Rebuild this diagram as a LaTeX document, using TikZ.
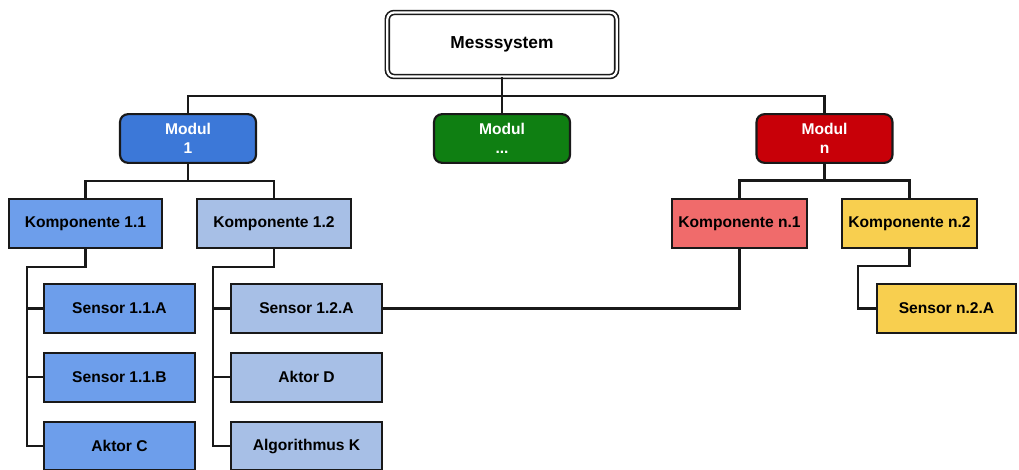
\documentclass[tikz,border=0pt]{standalone}
\usepackage{fontspec}
\setmainfont{Liberation Sans}
\usetikzlibrary{positioning}
\definecolor{modblue}{HTML}{3C78D8}
\definecolor{modgreen}{HTML}{0F7F12}
\definecolor{modred}{HTML}{C80008}
\definecolor{kblue}{HTML}{6D9EEB}
\definecolor{kpale}{HTML}{A7BFE6}
\definecolor{kred}{HTML}{F06B6B}
\definecolor{kyellow}{HTML}{F8CF4F}
\tikzset{
  topbox/.style={
    rectangle,
    rounded corners=5pt,
    draw=black!90,
    double=white,
    double distance=1.7pt,
    line width=1.2pt,
    fill=white,
    align=center,
    minimum width=172pt,
    minimum height=48pt,
    font=\fontsize{13}{15.5}\selectfont\bfseries
  },
  modulbox/.style={
    rectangle,
    rounded corners=6pt,
    draw=black!90,
    line width=1.6pt,
    text=white,
    align=center,
    minimum width=102pt,
    minimum height=36.5pt,
    font=\fontsize{11.7}{14.2}\selectfont\bfseries
  },
  kompbox/.style={
    rectangle,
    draw=black!90,
    line width=1.6pt,
    align=center,
    minimum width=115pt,
    minimum height=37pt,
    font=\fontsize{11.7}{14.2}\selectfont\bfseries
  },
  narrowbox/.style={kompbox, minimum width=101pt},
  sensorbox/.style={kompbox, minimum width=113pt, minimum height=36.5pt},
  link/.style={line width=1.6pt, draw=black!90}
}
\begin{document}
\begin{tikzpicture}[x=0.75pt, y=-0.75pt, node distance=13.5pt]
  \useasboundingbox[fill=white] (0,0) rectangle (1019,470);

  % top level and modules
  \node[topbox] (mess) at (502,44.5) {Messsystem};
  \node[modulbox, fill=modblue] (m1) at (188,138.5) {Modul\\1};
  \node[modulbox, fill=modgreen] (mx) at (502,138.5) {Modul\\...};
  \node[modulbox, fill=modred] (mn) at (824.5,138.5) {Modul\\n};

  % components
  \node[kompbox, fill=kblue] (k11) at (85.5,223.5) {Komponente 1.1};
  \node[kompbox, fill=kpale] (k12) at (274,223.5) {Komponente 1.2};
  \node[narrowbox, fill=kred] (kn1) at (739.5,223.5) {Komponente n.1};
  \node[narrowbox, fill=kyellow] (kn2) at (909.5,223.5) {Komponente n.2};

  % sensors and actors
  \node[sensorbox, fill=kblue] (s11a) at (119.5,308.5) {Sensor 1.1.A};
  \node[sensorbox, fill=kblue, below=of s11a] (s11b) {Sensor 1.1.B};
  \node[sensorbox, fill=kblue, below=of s11b] (akc) {Aktor C};
  \node[sensorbox, fill=kpale] (s12a) at (306.5,308.5) {Sensor 1.2.A};
  \node[sensorbox, fill=kpale, below=of s12a] (akd) {Aktor D};
  \node[sensorbox, fill=kpale, below=of akd] (algk) {Algorithmus K};
  \node[sensorbox, fill=kyellow, minimum width=104pt] (sn2a) at (946.5,308.5) {Sensor n.2.A};

  % bus points
  \coordinate (bus) at (502,96);
  \coordinate (b1) at (188,181);
  \coordinate (bn) at (824.5,180.5);
  \coordinate (c11) at (27,267);
  \coordinate (c12) at (213,267);
  \coordinate (cn2) at (858,266);

  \draw[link] (mess) -- (mx);
  \draw[link] (m1) |- (bus) -| (mn);
  \draw[link] (m1) -- (b1);
  \draw[link] (k11) |- (b1) -| (k12);
  \draw[link] (mn) -- (bn);
  \draw[link] (kn1) |- (bn) -| (kn2);

  \draw[link] (k11) |- (c11) |- (akc);
  \draw[link] (c11 |- s11a) -- (s11a);
  \draw[link] (c11 |- s11b) -- (s11b);
  \draw[link] (k12) |- (c12) |- (algk);
  \draw[link] (c12 |- s12a) -- (s12a);
  \draw[link] (c12 |- akd) -- (akd);
  \draw[link] (kn1) |- (s12a);
  \draw[link] (kn2) |- (cn2) |- (sn2a);
\end{tikzpicture}
\end{document}
